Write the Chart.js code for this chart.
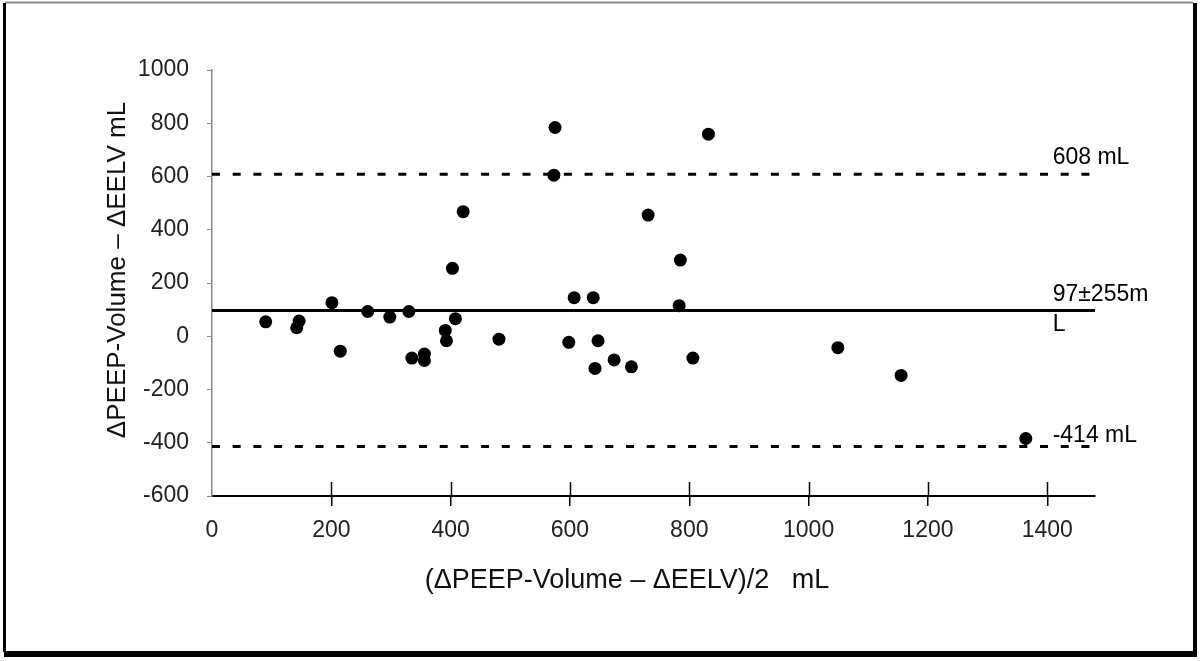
<!DOCTYPE html>
<html>
<head>
<meta charset="utf-8">
<script src="https://cdn.jsdelivr.net/npm/chart.js@4.4.1/dist/chart.umd.min.js"></script>
<style>
  html, body { margin: 0; padding: 0; background: #ffffff; }
  canvas { display: block; }
</style>
</head>
<body>
<canvas id="c" width="1200" height="661"></canvas>
<script>
// ---- data ----
const meanVals = [90,142,146,201,215,261,298,330,335,356,356,391,393,403,408,421,481,
                  575,573,731,785,783,832,607,639,598,647,642,674,703,806,1049,1155,1364];
const diffVals = [54,32,57,126,-56,93,72,93,-82,-67,-91,22,-17,255,66,468,-11,
                  784,605,455,286,115,759,145,145,-23,-17,-121,-89,-115,-82,-43,-147,-384];
const limitValues = [608, 97, -414];
const limitLabels = [['608 mL'], ['97\u00B1255m', 'L'], ['-414 mL']];
const xTitle = '(\u0394PEEP-Volume \u2013 \u0394EELV)/2   mL';
const yTitle = '\u0394PEEP-Volume \u2013 \u0394EELV mL';
const xMin = 0, xMax = 1480, xStep = 200;
const yMin = -600, yMax = 1000, yStep = 200;

const FONT = '"Liberation Sans", Arial, sans-serif';

const points = meanVals.map((x, i) => ({ x: x, y: diffVals[i] }));
const limitStyles = [
  { dash: [8, 12.7], labelOffset: 10 },
  { dash: [], labelOffset: 9 },
  { dash: [8, 12.7], labelOffset: 4 }
];
const limitDatasets = limitValues.map((v, i) => ({
  type: 'line',
  data: [{ x: xMin, y: v }, { x: xMax, y: v }],
  borderColor: '#000',
  borderWidth: 3,
  borderDash: limitStyles[i].dash,
  pointRadius: 0,
  fill: false
}));

const framePlugin = {
  id: 'frame',
  beforeDraw(chart) {
    const ctx = chart.ctx;
    ctx.save();
    ctx.fillStyle = '#fff';
    ctx.fillRect(0, 0, chart.width, chart.height);
    ctx.strokeStyle = '#8a8a8a';
    ctx.lineWidth = 2;
    ctx.beginPath(); ctx.moveTo(5, 2.5); ctx.lineTo(1193, 2.5); ctx.stroke();
    ctx.strokeStyle = '#000';
    ctx.lineWidth = 3;
    ctx.beginPath(); ctx.moveTo(4.5, 3); ctx.lineTo(4.5, 652); ctx.stroke();
    ctx.lineWidth = 4;
    ctx.beginPath(); ctx.moveTo(1195, 3); ctx.lineTo(1195, 656); ctx.stroke();
    ctx.lineWidth = 6;
    ctx.beginPath(); ctx.moveTo(4, 654); ctx.lineTo(1197, 654); ctx.stroke();
    ctx.restore();
  },
  afterDraw(chart) {
    const ctx = chart.ctx;
    const xs = chart.scales.x, ys = chart.scales.y;
    const area = chart.chartArea;
    ctx.save();
    ctx.strokeStyle = '#000';
    ctx.lineWidth = 1.5;
    xs.ticks.forEach(t => {
      if (t.value === xMin) return;
      const px = Math.round(xs.getPixelForValue(t.value)) + 0.5;
      ctx.beginPath(); ctx.moveTo(px, area.bottom - 14); ctx.lineTo(px, area.bottom); ctx.stroke();
    });
    ctx.fillStyle = '#000';
    ctx.font = '23px ' + FONT;
    ctx.textAlign = 'left';
    ctx.textBaseline = 'alphabetic';
    const lx = xs.getPixelForValue(1409);
    limitValues.forEach((v, i) => {
      const py = ys.getPixelForValue(v) - limitStyles[i].labelOffset;
      limitLabels[i].forEach((line, j) => ctx.fillText(line, lx, py + j * 30));
    });
    ctx.fillStyle = '#111';
    ctx.textAlign = 'center';
    ctx.textBaseline = 'middle';
    ctx.font = '27px ' + FONT;
    ctx.fillText(xTitle, 627, 581);
    ctx.font = '26px ' + FONT;
    ctx.translate(118, 270);
    ctx.rotate(-Math.PI / 2);
    ctx.fillText(yTitle, 0, 0);
    ctx.restore();
  }
};

new Chart(document.getElementById('c'), {
  type: 'scatter',
  data: {
    datasets: [
      {
        type: 'scatter',
        data: points,
        backgroundColor: '#000',
        borderColor: '#000',
        borderWidth: 0,
        pointRadius: 6.5,
        pointHoverRadius: 6.5
      },
      ...limitDatasets
    ]
  },
  options: {
    responsive: false,
    animation: false,
    devicePixelRatio: 1,
    layout: { padding: { left: 0, top: 70, right: 105, bottom: 0 } },
    plugins: { legend: { display: false }, tooltip: { enabled: false } },
    scales: {
      x: {
        type: 'linear',
        min: xMin, max: xMax,
        afterFit(scale) { scale.height = 165; },
        ticks: {
          stepSize: xStep, includeBounds: false,
          color: '#222', padding: 11,
          font: { family: FONT, size: 23 },
          maxRotation: 0,
          callback: v => String(v)
        },
        grid: {
          drawOnChartArea: false, drawTicks: true, tickLength: 10,
          color: ctx => (ctx.tick && ctx.tick.value === xMin) ? 'rgba(0,0,0,0)' : '#000',
          lineWidth: 1.5
        },
        border: { display: true, color: '#000', width: 2 }
      },
      y: {
        type: 'linear',
        min: yMin, max: yMax,
        afterFit(scale) { scale.width = 212; },
        ticks: {
          stepSize: yStep, includeBounds: false,
          color: '#222', padding: 18,
          font: { family: FONT, size: 23 },
          callback: v => String(v)
        },
        grid: {
          drawOnChartArea: false, drawTicks: true, tickLength: 5,
          color: '#888', lineWidth: 1
        },
        border: { display: true, color: '#888', width: 1.5 }
      }
    }
  },
  plugins: [framePlugin]
});
</script>
</body>
</html>
